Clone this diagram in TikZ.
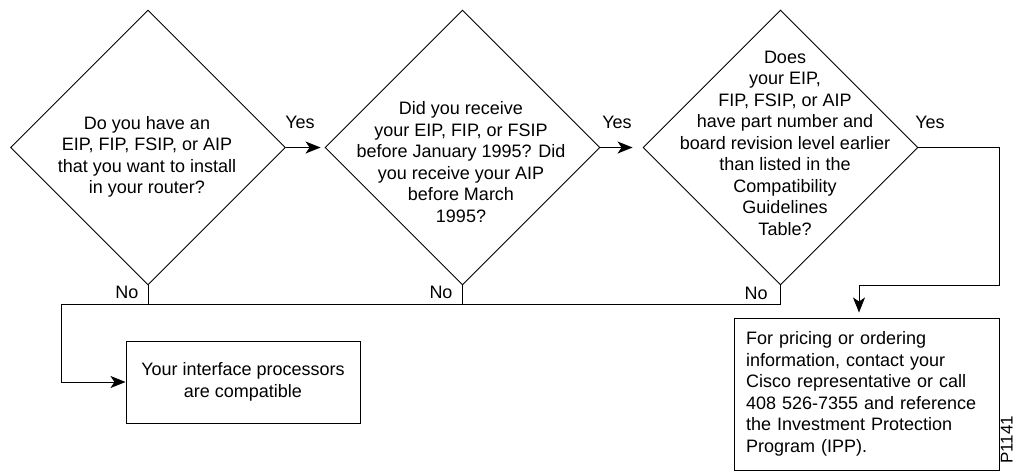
\documentclass[tikz,border=0pt]{standalone}
\usepackage{fontspec}
\setmainfont{Liberation Sans}
\usetikzlibrary{shapes.geometric,arrows.meta}
\begin{document}
\begin{tikzpicture}[x=1pt,y=-1pt,
  dec/.style={draw, diamond, aspect=1, minimum width=275pt, minimum height=275pt, inner sep=0pt, line width=0.9pt},
  qtext/.style={align=center, inner sep=0pt, font=\fontsize{18}{21.5}\selectfont},
  lbl/.style={inner sep=0pt, font=\fontsize{18}{21.5}\selectfont},
  outbox/.style={draw, line width=1pt, inner sep=0pt, font=\fontsize{18}{21.5}\selectfont},
  conn/.style={line width=0.9pt},
  arr/.style={conn, -{Stealth[length=15pt,width=12pt,inset=4pt]}}
]
\useasboundingbox (0,0) rectangle (1016,472);
% decisions
\node[dec] (d1) at (148,147.5) {};
\node[dec] (d2) at (462.5,147.5) {};
\node[dec] (d3) at (780.5,147.5) {};
\node[qtext] (t1) at (147,157) {Do you have an\\EIP, FIP, FSIP, or AIP\\that you want to install\\in your router?};
\node[qtext] (t2) at (461,162) {Did you receive\\your EIP, FIP, or FSIP\\before January 1995? Did\\you receive your AIP\\before March\\1995?};
\node[qtext] (t3) at (785,143) {Does\\your EIP,\\FIP, FSIP, or AIP\\have part number and\\board revision level earlier\\than listed in the\\Compatibility\\Guidelines\\Table?};
% outcomes
\node[outbox, minimum width=234pt, minimum height=82pt, align=center] (b1) at (243,382) {Your interface processors\\are compatible};
\node[outbox, minimum width=265pt, minimum height=152pt, text width=241pt, align=left] (b2) at (866.5,394) {For pricing or ordering\\information, contact your\\Cisco representative or call\\408 526-7355 and reference\\the Investment Protection\\Program (IPP).};
% labels
\node[lbl] (y1) at (300,122) {Yes};
\node[lbl] (y2) at (617,122) {Yes};
\node[lbl] (y3) at (930,122) {Yes};
\node[lbl] (n1) at (127,292) {No};
\node[lbl] (n2) at (441,292) {No};
\node[lbl] (n3) at (756,293) {No};
\node[lbl, rotate=90, anchor=base, font=\fontsize{17}{20}\selectfont] (fig) at (1012.5,440) {P1141};
% coordinates
\coordinate (nl) at (61,304);
\coordinate (yc) at (999,285);
\coordinate (ya) at (859,285);
% connectors
\draw[arr, shorten >=4pt] (d1.east) -- (d2.west);
\draw[arr, shorten >=10pt] (d2.east) -- (d3.west);
\draw[arr, shorten >=5pt] (d3.east) -| (yc) -- (ya) -- (ya |- b2.north);
\draw[conn] (d1.south) -- (d1.south |- nl);
\draw[conn] (d2.south) -- (d2.south |- nl);
\draw[arr] (d3.south) -- (d3.south |- nl) -- (nl) |- (b1.west);
\end{tikzpicture}
\end{document}
